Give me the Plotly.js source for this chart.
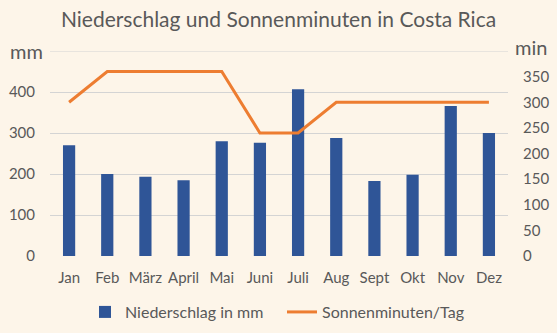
<!DOCTYPE html>
<html>
<head>
<meta charset="utf-8">
<script src="https://cdn.plot.ly/plotly-3.0.1.min.js"></script>
<style>html,body{margin:0;padding:0;background:#FDF5E9;}</style>
</head>
<body>
<div id="chart" style="width:557px;height:333px;"></div>
<script>
const months = ["Jan","Feb","März","April","Mai","Juni","Juli","Aug","Sept","Okt","Nov","Dez"];
const niederschlag = [270, 200, 193, 185, 280, 276, 407, 288, 183, 198, 366, 300];
const sonnenminuten = [300, 360, 360, 360, 360, 240, 240, 300, 300, 300, 300, 300];
const leftTicks = [0, 100, 200, 300, 400];
const rightTicks = [0, 50, 100, 150, 200, 250, 300, 350];

const FONT = "Lato, 'Open Sans', sans-serif";
const GREY = "#595959";

const traces = [
  {
    type: "bar", name: "Niederschlag in mm", x: months, y: niederschlag,
    marker: {color: "#2F5597"}, yaxis: "y"
  },
  {
    type: "scatter", mode: "lines", name: "Sonnenminuten/Tag", x: months, y: sonnenminuten,
    line: {color: "#ED7D31", width: 3}, yaxis: "y2"
  }
];

const layout = {
  width: 557, height: 333,
  paper_bgcolor: "#FDF5E9", plot_bgcolor: "#FDF5E9",
  margin: {l: 50, r: 49, t: 51, b: 77, autoexpand: false},
  font: {family: FONT, color: GREY, size: 15},
  title: {text: "Niederschlag und Sonnenminuten in Costa Rica", font: {size: 21, color: GREY, family: FONT}, x: 0.5, xanchor: "center", y: 0.94, yanchor: "middle"},
  bargap: 0.68,
  showlegend: true,
  legend: {orientation: "h", x: 0.1526, xanchor: "left", xref: "container", yref: "container", y: 0.063, yanchor: "middle", entrywidth: 152, entrywidthmode: "pixels", font: {size: 16, color: GREY}, bgcolor: "rgba(0,0,0,0)"},
  xaxis: {type: "category", showgrid: false, showline: false, ticks: "", ticklabelstandoff: 11, tickfont: {size: 15, color: GREY}, automargin: false},
  yaxis: {range: [0, 500], tickvals: leftTicks, showgrid: true, gridcolor: "#D4D4D4", gridwidth: 1, zeroline: false, showline: false, ticks: "", ticklabelstandoff: 14, tickfont: {size: 15, color: GREY}, automargin: false},
  yaxis2: {range: [0, 400], tickvals: rightTicks, overlaying: "y", side: "right", showgrid: false, zeroline: false, showline: false, ticks: "", ticklabelstandoff: 14, tickfont: {size: 15, color: GREY}, automargin: false},
  shapes: [
    {type: "line", xref: "paper", yref: "y", x0: 0, x1: 1, y0: 500, y1: 500, line: {color: "#D4D4D4", width: 1}}
  ],
  annotations: [
    {text: "mm", xref: "paper", yref: "paper", x: -0.012, y: 1.0, xanchor: "right", yanchor: "middle", showarrow: false, font: {size: 20, color: GREY, family: FONT}},
    {text: "min", xref: "paper", yref: "paper", x: 1.01, y: 1.02, xanchor: "left", yanchor: "middle", showarrow: false, font: {size: 20, color: GREY, family: FONT}}
  ]
};

Plotly.newPlot("chart", traces, layout, {displayModeBar: false, staticPlot: true});
</script>
</body>
</html>
